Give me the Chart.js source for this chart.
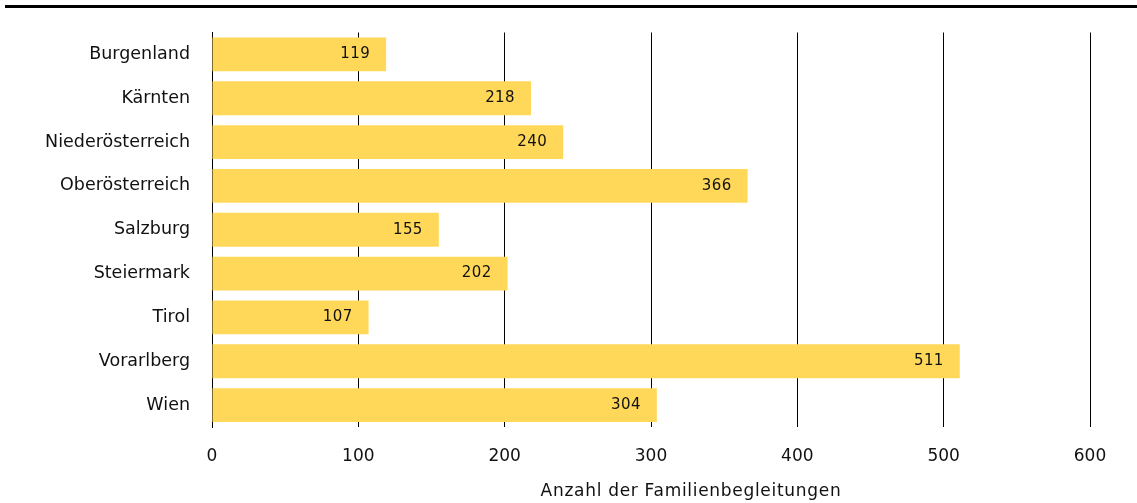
<!DOCTYPE html>
<html>
<head>
<meta charset="utf-8">
<script src="https://cdn.jsdelivr.net/npm/chart.js@4"></script>
<style>
  body { margin: 0; background: #fff; }
  #topline { position: absolute; left: 5px; right: 0; top: 5px; height: 3px; background: #000; }
  #wrap { position: absolute; left: 0; top: 0; width: 1137px; height: 503px; }
</style>
</head>
<body>
<div id="topline"></div>
<div id="wrap"><canvas id="chartBegleitungen" width="1137" height="503"></canvas></div>
<script>
const bundeslaender = ['Burgenland', 'Kärnten', 'Niederösterreich', 'Oberösterreich', 'Salzburg', 'Steiermark', 'Tirol', 'Vorarlberg', 'Wien'];
const begleitungen = [119, 218, 240, 366, 155, 202, 107, 511, 304];
const xTicks = [0, 100, 200, 300, 400, 500, 600];
const achsenTitel = 'Anzahl der Familienbegleitungen';

const FONT = '"DejaVu Sans", sans-serif';

// Werte rechts in den Balken
const wertLabels = {
    id: 'wertLabels',
    afterDatasetsDraw(chart) {
        const ctx = chart.ctx;
        const meta = chart.getDatasetMeta(0);
        ctx.save();
        ctx.font = '15px ' + FONT;
        ctx.letterSpacing = '0.4px';
        ctx.fillStyle = '#111';
        ctx.textAlign = 'right';
        ctx.textBaseline = 'middle';
        meta.data.forEach((bar, i) => {
            ctx.fillText(String(begleitungen[i]), bar.x - 16, bar.y);
        });
        ctx.restore();
    }
};

// Achsentitel unten
const achsenTitelPlugin = {
    id: 'achsenTitel',
    afterDraw(chart) {
        const ctx = chart.ctx;
        ctx.save();
        ctx.font = '17px ' + FONT;
        ctx.letterSpacing = '0.7px';
        ctx.fillStyle = '#111';
        ctx.textAlign = 'center';
        ctx.textBaseline = 'middle';
        ctx.fillText(achsenTitel, 691, 492);
        ctx.restore();
    }
};

new Chart(document.getElementById('chartBegleitungen').getContext('2d'), {
    type: 'bar',
    data: {
        labels: bundeslaender,
        datasets: [{
            data: begleitungen,
            backgroundColor: '#FFD85A',
            borderWidth: 0,
            barPercentage: 0.77,
            categoryPercentage: 1
        }]
    },
    options: {
        indexAxis: 'y',
        responsive: false,
        animation: false,
        layout: { padding: { top: 30, right: 47, left: 0, bottom: 0 } },
        plugins: {
            legend: { display: false },
            tooltip: { enabled: false }
        },
        scales: {
            x: {
                min: 0,
                max: 600,
                afterBuildTicks: scale => { scale.ticks = xTicks.map(v => ({ value: v })); },
                afterFit: scale => { scale.height = 76; },
                ticks: { color: '#111', font: { size: 17, family: FONT }, padding: 19, maxRotation: 0 },
                grid: { color: '#000', lineWidth: 1, drawTicks: false },
                border: { display: false }
            },
            y: {
                afterFit: scale => { scale.width = 212; },
                ticks: { color: '#111', font: { size: 17.5, family: FONT }, padding: 22 },
                grid: { display: false, drawTicks: false },
                border: { display: true, color: '#000', width: 1 }
            }
        }
    },
    plugins: [wertLabels, achsenTitelPlugin]
});
</script>
</body>
</html>
